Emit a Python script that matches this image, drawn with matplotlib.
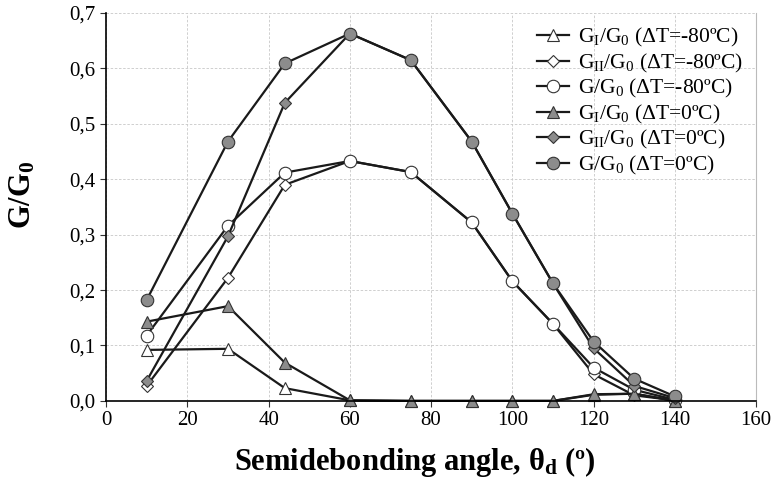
import matplotlib
matplotlib.use("Agg")
import matplotlib.pyplot as plt
from matplotlib.ticker import FuncFormatter

plt.rcParams['font.family'] = ['Liberation Serif', 'DejaVu Serif']
plt.rcParams['mathtext.fontset'] = 'custom'
plt.rcParams['mathtext.rm'] = 'Liberation Serif'
plt.rcParams['mathtext.it'] = 'Liberation Serif:italic'
plt.rcParams['mathtext.bf'] = 'Liberation Serif:bold'

# Semidebonding angle (deg)
angle = [10, 30, 44, 60, 75, 90, 100, 110, 120, 130, 140]

# dT = -80 C
gi_m80 = [0.092, 0.094, 0.023, 0.001, 0.0, 0.0, 0.0, 0.0, 0.011, 0.013, 0.0]
gii_m80 = [0.027, 0.222, 0.390, 0.433, 0.413, 0.322, 0.216, 0.139, 0.048, 0.010, 0.001]
g_m80 = [0.118, 0.316, 0.412, 0.433, 0.413, 0.322, 0.216, 0.139, 0.060, 0.020, 0.002]

# dT = 0 C
gi_0 = [0.143, 0.171, 0.069, 0.001, 0.0, 0.0, 0.0, 0.0, 0.012, 0.013, 0.0]
gii_0 = [0.036, 0.297, 0.538, 0.663, 0.615, 0.468, 0.338, 0.212, 0.095, 0.027, 0.005]
g_0 = [0.182, 0.468, 0.609, 0.663, 0.615, 0.468, 0.338, 0.212, 0.107, 0.040, 0.008]

series = [
    (gi_m80, '^', 'white', 8, r'G$_\mathrm{I}$/G$_0$ (ΔT=-80ºC)'),
    (gii_m80, 'D', 'white', 6, r'G$_\mathrm{II}$/G$_0$ (ΔT=-80ºC)'),
    (g_m80, 'o', 'white', 9, r'G/G$_0$ (ΔT=-80ºC)'),
    (gi_0, '^', '#8c8c8c', 8, r'G$_\mathrm{I}$/G$_0$ (ΔT=0ºC)'),
    (gii_0, 'D', '#8c8c8c', 6, r'G$_\mathrm{II}$/G$_0$ (ΔT=0ºC)'),
    (g_0, 'o', '#8c8c8c', 9, r'G/G$_0$ (ΔT=0ºC)'),
]

fig = plt.figure(figsize=(7.74, 4.83), dpi=100)
ax = fig.add_axes([0.137, 0.170, 0.840, 0.803])

for vals, mk, fc, ms, lab in series:
    ax.plot(angle, vals, color='#1a1a1a', linewidth=1.6, marker=mk,
            markersize=ms, markerfacecolor=fc, markeredgecolor='#333333',
            markeredgewidth=0.8, label=lab, clip_on=False)

ax.set_xlim(0, 160)
ax.set_ylim(0, 0.7)
ax.set_xticks(range(0, 161, 20))
ax.set_yticks([i / 10 for i in range(8)])
ax.yaxis.set_major_formatter(FuncFormatter(lambda v, p: f"{v:.1f}".replace('.', ',')))
ax.tick_params(labelsize=15, direction='out', length=4, color='#333333')

ax.grid(True, linestyle=(0, (3, 2)), linewidth=0.6, color='#c8c8c8')
ax.set_axisbelow(True)
ax.spines['top'].set_visible(False)
ax.spines['right'].set_color('#bbbbbb')
ax.spines['left'].set_linewidth(1.2)
ax.spines['bottom'].set_linewidth(1.2)

ax.set_xlabel(r'Semidebonding angle, θ$_\mathbf{d}$ (º)', fontsize=22,
              fontweight='bold')
ax.xaxis.set_label_coords(0.475, -0.115)
ax.set_ylabel(r'$\mathbf{G/G_0}$', fontsize=22)
ax.yaxis.set_label_coords(-0.105, 0.53)

ax.legend(loc='upper right', frameon=False, fontsize=15.5, handlelength=1.5,
          handletextpad=0.4, labelspacing=0.12, borderaxespad=0.2)

fig.savefig("out.png", dpi=100)
